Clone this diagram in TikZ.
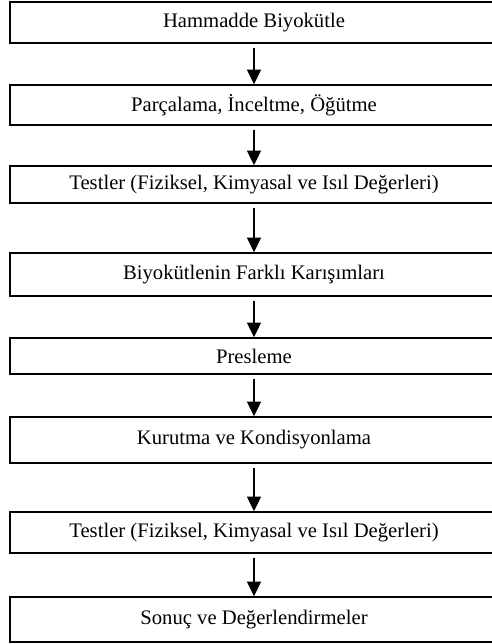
\documentclass[tikz,border=0pt]{standalone}
\usepackage{fontspec}
\setmainfont{Liberation Serif}
\usetikzlibrary{arrows.meta}

\tikzset{
  stepbox/.style={draw, line width=1.1pt, fill=white, inner sep=0pt,
    minimum width=366pt, font=\fontsize{15.5}{18}\selectfont},
  flow/.style={-{Triangle[width=10.5pt,length=11pt]}, line width=0.8pt, shorten <=3pt}
}

\begin{document}
\begin{tikzpicture}[x=0.75pt,y=-0.75pt]
	\useasboundingbox (0,0) rectangle (492,644);
	\node[stepbox, minimum height=30.75pt] (ham) at (254,22.5) {Hammadde Biyokütle};
	\node[stepbox, minimum height=30pt] (parca) at (254,105) {Parçalama, İnceltme, Öğütme};
	\node[stepbox, minimum height=27.75pt] (test1) at (254,184.5) {Testler (Fiziksel, Kimyasal ve Isıl Değerleri)};
	\node[stepbox, minimum height=32.25pt] (karis) at (254,274.5) {Biyokütlenin Farklı Karışımları};
	\node[stepbox, minimum height=27pt] (pres) at (254,356) {Presleme};
	\node[stepbox, minimum height=34.5pt] (kuru) at (254,440) {Kurutma ve Kondisyonlama};
	\node[stepbox, minimum height=30.75pt] (test2) at (254,532.5) {Testler (Fiziksel, Kimyasal ve Isıl Değerleri)};
	\node[stepbox, minimum height=33.75pt] (sonuc) at (254,619.5) {Sonuç ve Değerlendirmeler};
	% arrows between the steps
	\draw[flow] (ham) -- (parca);
	\draw[flow] (parca) -- (test1);
	\draw[flow] (test1) -- (karis);
	\draw[flow] (karis) -- (pres);
	\draw[flow] (pres) -- (kuru);
	\draw[flow] (kuru) -- (test2);
	\draw[flow] (test2) -- (sonuc);
\end{tikzpicture}
\end{document}
